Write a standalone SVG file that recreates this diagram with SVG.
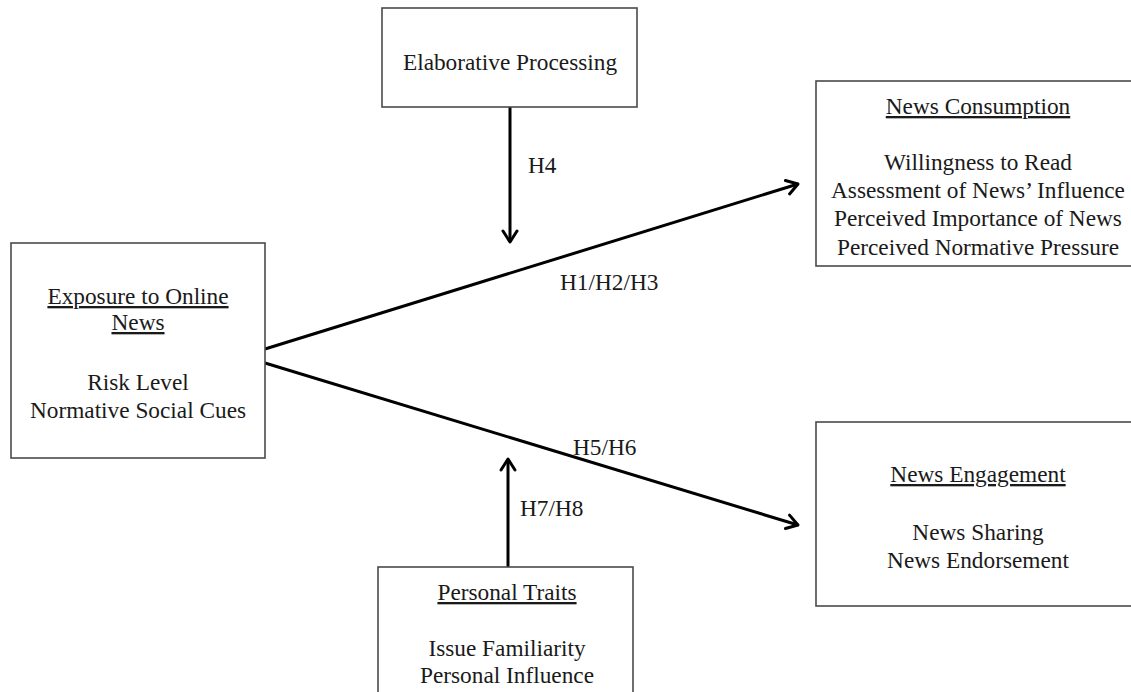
<svg xmlns="http://www.w3.org/2000/svg" width="1131" height="692" viewBox="0 0 1131 692">
<style>
.box{fill:#fff;stroke:#4a4a4a;stroke-width:1.6}
.t{font-family:"Liberation Serif","Times New Roman",serif;font-size:23.3px;fill:#1a1a1a;text-anchor:middle}
.l{font-family:"Liberation Serif","Times New Roman",serif;font-size:23.3px;fill:#1a1a1a}
.u{text-decoration:underline}
.c{stroke:#000;stroke-width:3;fill:none}
</style>
<defs>
<marker id="ah" markerUnits="userSpaceOnUse" markerWidth="30" markerHeight="30" viewBox="-15 -15 30 30" refX="0" refY="0" orient="auto">
<path d="M-11,-7 L0,0 L-11,7" fill="none" stroke="#000" stroke-width="3" stroke-linejoin="round" stroke-linecap="round"/>
</marker>
</defs>
<rect width="1131" height="692" fill="#fff"/>
<g id="connectors">
<line class="c" x1="265" y1="349" x2="798" y2="184" marker-end="url(#ah)"/>
<line class="c" x1="265" y1="363" x2="798" y2="525" marker-end="url(#ah)"/>
<line class="c" x1="510" y1="107" x2="510" y2="242" marker-end="url(#ah)"/>
<line class="c" x1="508" y1="567" x2="508" y2="459" marker-end="url(#ah)"/>
<text class="l" x="560" y="290">H1/H2/H3</text>
<text class="l" x="528" y="173">H4</text>
<text class="l" x="573" y="455">H5/H6</text>
<text class="l" x="520" y="516">H7/H8</text>
</g>
<g id="exposure">
<rect class="box" x="11" y="243" width="254" height="215"/>
<text class="t u" x="138" y="304">Exposure to Online</text>
<text class="t u" x="138" y="330">News</text>
<text class="t" x="138" y="390">Risk Level</text>
<text class="t" x="138" y="418">Normative Social Cues</text>
</g>
<g id="elaborative">
<rect class="box" x="382" y="8" width="255" height="99"/>
<text class="t" x="510" y="70">Elaborative Processing</text>
</g>
<g id="consumption">
<rect class="box" x="816" y="81" width="330" height="185"/>
<text class="t u" x="978" y="114">News Consumption</text>
<text class="t" x="978" y="170">Willingness to Read</text>
<text class="t" x="978" y="198">Assessment of News’ Influence</text>
<text class="t" x="978" y="226">Perceived Importance of News</text>
<text class="t" x="978" y="255">Perceived Normative Pressure</text>
</g>
<g id="engagement">
<rect class="box" x="816" y="422" width="330" height="184"/>
<text class="t u" x="978" y="482">News Engagement</text>
<text class="t" x="978" y="540">News Sharing</text>
<text class="t" x="978" y="568">News Endorsement</text>
</g>
<g id="traits">
<rect class="box" x="378" y="567" width="255" height="140"/>
<text class="t u" x="507" y="600">Personal Traits</text>
<text class="t" x="507" y="656">Issue Familiarity</text>
<text class="t" x="507" y="683">Personal Influence</text>
</g>
</svg>
